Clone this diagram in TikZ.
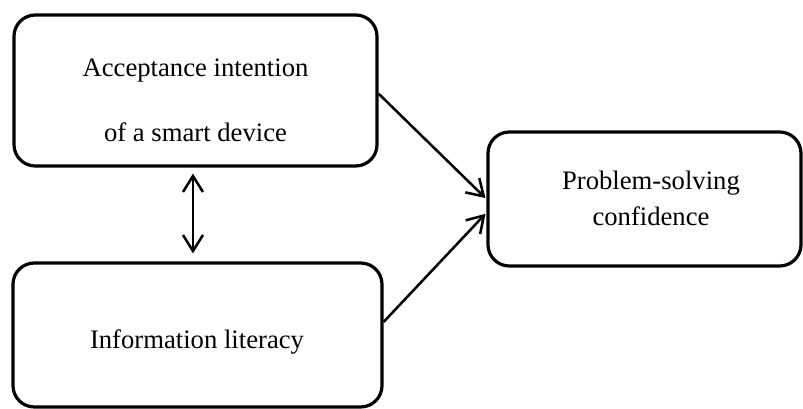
\documentclass[tikz,border=0pt]{standalone}
\usepackage{fontspec}
\setmainfont{Liberation Serif}
\usetikzlibrary{arrows.meta,positioning}

\begin{document}
\begin{tikzpicture}[x=0.75pt,y=-0.75pt]

\tikzstyle{block} = [draw, line width=2.4pt, rectangle, rounded corners=16pt, inner sep=0pt]
\tikzstyle{boxtext} = [align=center, font=\fontsize{20}{24}\selectfont, inner sep=0pt]
\tikzstyle{link} = [line width=1.9pt, -{Straight Barb[length=12pt,width=15pt]}]
\tikzstyle{both} = [line width=1.9pt, {Straight Barb[length=12pt,width=15pt]}-{Straight Barb[length=12pt,width=15pt]}]

\useasboundingbox (0,0) rectangle (803,409);

\node [block, minimum width=272.25pt, minimum height=113.25pt] (acceptance) at (195.5,90.5) {};
\node [block, minimum width=276.75pt, minimum height=108pt] (literacy) at (197.5,335) {};
\node [block, minimum width=234.75pt, minimum height=100.5pt] (confidence) at (644.5,199) {};

\node [boxtext] (acceptance-text) at (195.5,100) {Acceptance intention\\[24.75pt]of a smart device};
\node [boxtext] (literacy-text) at (197,342) {Information literacy};
\node [boxtext] (confidence-text) at (651,198) {Problem-solving\\[3pt]confidence};

\draw [link, shorten >=1pt] (acceptance.-1.5) -- (confidence.180);
\draw [link, shorten >=1pt] (literacy.4.6) -- (confidence.185);
\draw [both, shorten <=4.5pt, shorten >=6pt] ([xshift=-1.9pt]acceptance.south) -- ([xshift=-1.9pt]acceptance.south |- literacy.north);
\end{tikzpicture}
\end{document}
